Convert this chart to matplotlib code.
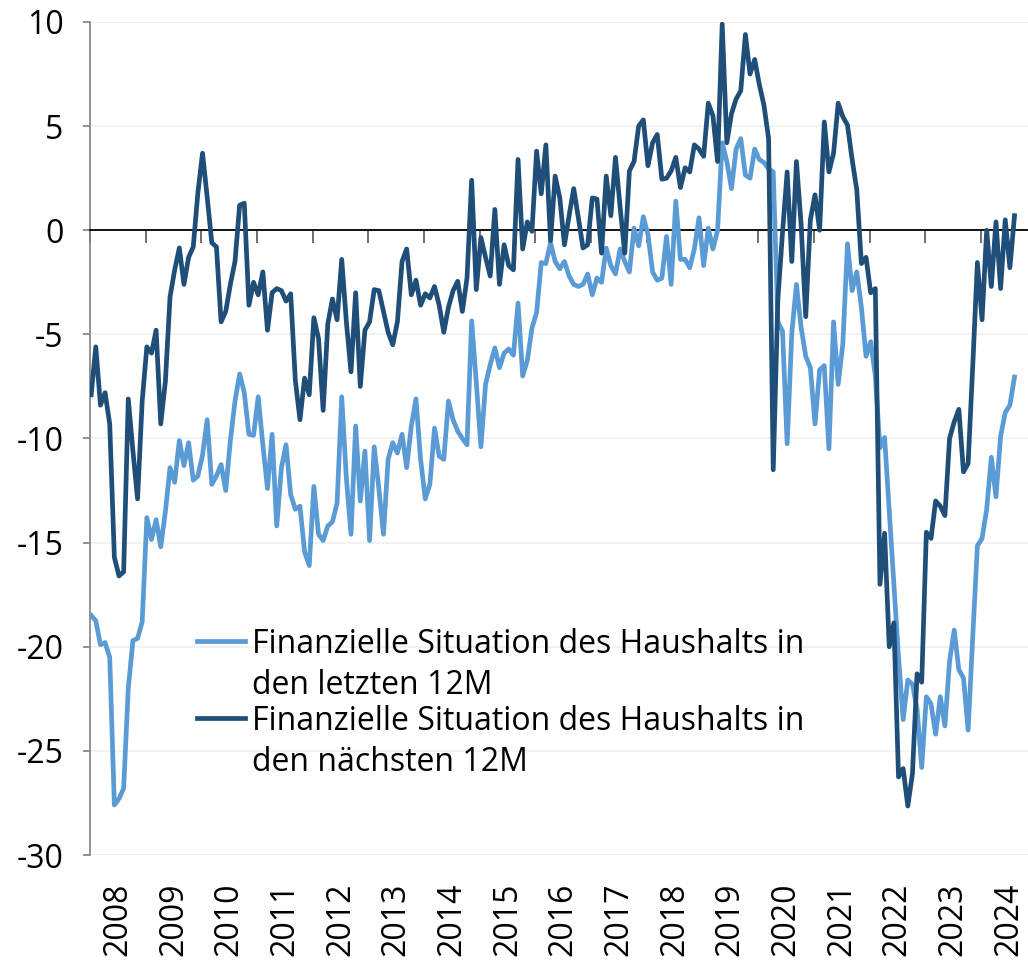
import matplotlib
matplotlib.use("Agg")
import matplotlib.pyplot as plt
from matplotlib.lines import Line2D

# monthly values, Jan 2008 - Aug 2024
years = list(range(2008, 2025))

letzte_12m = [
    -18.5, -18.75, -19.9, -19.8, -20.5, -27.6, -27.3, -26.8, -22.0, -19.7, -19.6, -18.8,
    -13.8, -14.85, -13.9, -15.2, -13.5, -11.4, -12.1, -10.1, -11.3, -10.2, -12.0, -11.8,
    -10.8, -9.1, -12.2, -11.8, -11.25, -12.5, -10.1, -8.2, -6.9, -7.8, -9.8, -9.85,
    -8.0, -10.3, -12.4, -9.8, -14.2, -11.4, -10.3, -12.7, -13.4, -13.25, -15.45, -16.1,
    -12.3, -14.6, -14.9, -14.2, -14.0, -13.1, -8.0, -11.9, -14.6, -9.4, -13.0, -10.6,
    -14.9, -10.4, -12.4, -14.6, -11.0, -10.2, -10.7, -9.8, -11.4, -9.4, -8.1, -11.0,
    -12.9, -12.2, -9.5, -10.85, -11.0, -8.2, -9.1, -9.65, -10.0, -10.3, -4.35, -7.3,
    -10.4, -7.4, -6.45, -5.65, -6.6, -5.9, -5.7, -6.0, -3.5, -7.0, -6.25, -4.7,
    -3.95, -1.55, -1.6, -0.6, -1.5, -1.85, -1.5, -2.2, -2.6, -2.7, -2.6, -2.1,
    -3.1, -2.3, -2.5, -0.86, -1.7, -2.1, -0.9, -1.5, -2.0, 0.1, -0.75, 0.65,
    -0.2, -2.0, -2.4, -2.3, -0.3, -2.6, 1.4, -1.4, -1.4, -1.8, -0.9, 0.6,
    -1.7, 0.1, -0.9, 0.0, 4.2, 3.3, 2.0, 3.9, 4.4, 2.65, 2.5, 3.9,
    3.4, 3.25, 2.95, 2.8, -4.4, -4.85, -10.25, -4.95, -2.6, -4.65, -6.05, -6.6,
    -9.3, -6.7, -6.5, -10.5, -4.4, -7.4, -5.45, -0.65, -2.9, -2.0, -3.7, -6.05,
    -5.35, -7.0, -10.45, -9.95, -13.5, -17.0, -20.5, -23.5, -21.6, -21.8, -23.0, -25.8,
    -22.4, -22.75, -24.2, -22.4, -23.8, -20.7, -19.2, -21.1, -21.5, -24.0, -19.5, -15.15,
    -14.8, -13.4, -10.9, -12.8, -9.9, -8.75, -8.4, -7.05,
]

naechste_12m = [
    -7.9, -5.6, -8.4, -7.8, -9.3, -15.7, -16.6, -16.4, -8.1, -10.6, -12.9, -8.2,
    -5.6, -5.9, -4.8, -9.3, -7.25, -3.2, -1.9, -0.85, -2.6, -1.3, -0.8, 1.8,
    3.7, 1.6, -0.6, -0.8, -4.4, -3.9, -2.6, -1.5, 1.2, 1.3, -3.6, -2.5,
    -3.1, -2.0, -4.8, -3.0, -2.8, -2.9, -3.4, -3.05, -7.2, -9.1, -7.1, -7.9,
    -4.2, -5.2, -8.65, -4.5, -3.3, -4.3, -1.4, -4.4, -6.8, -3.0, -7.5, -4.8,
    -4.4, -2.85, -2.9, -3.9, -4.9, -5.5, -4.4, -1.5, -0.9, -3.1, -2.4, -3.6,
    -3.05, -3.25, -2.7, -3.6, -4.9, -3.7, -2.9, -2.45, -3.9, -2.3, 2.4, -2.85,
    -0.35, -1.3, -2.2, 1.0, -2.6, -0.7, -1.7, -1.9, 3.4, -0.9, 0.4, -0.05,
    3.8, 1.75, 4.1, -0.5, 2.6, 1.55, -0.7, 0.7, 2.0, 0.6, -0.85, -0.7,
    1.55, 1.5, -1.1, 2.6, 0.7, 3.5, 1.1, -1.1, 2.85, 3.3, 5.0, 5.3,
    3.1, 4.2, 4.6, 2.45, 2.5, 2.85, 3.5, 2.05, 3.0, 2.8, 4.1, 3.9,
    3.55, 6.1, 5.5, 3.3, 9.9, 4.2, 5.6, 6.3, 6.7, 9.4, 7.5, 8.2,
    7.0, 6.0, 4.4, -11.5, -3.3, -0.1, 2.8, -1.5, 3.3, 0.3, -4.15, 0.5,
    1.7, 0.0, 5.2, 2.8, 3.7, 6.1, 5.45, 5.05, 3.4, 1.95, -1.6, -1.3,
    -3.0, -2.8, -17.0, -14.55, -20.0, -18.85, -26.25, -25.85, -27.65, -26.1, -21.3, -21.7,
    -14.5, -14.8, -13.0, -13.25, -13.7, -10.0, -9.2, -8.6, -11.6, -11.2, -6.5, -1.55,
    -4.3, 0.0, -2.7, 0.4, -2.8, 0.5, -1.8, 0.7,
]

labels = [
    ("Finanzielle Situation des Haushalts in", "den letzten 12M"),
    ("Finanzielle Situation des Haushalts in", "den nächsten 12M"),
]

LIGHT = "#5B9BD5"
DARK = "#1F4E79"
FS = 23

plt.rcParams["font.family"] = ["Open Sans", "DejaVu Sans"]
plt.rcParams["axes.unicode_minus"] = False

W, H = 1028, 966
fig = plt.figure(figsize=(W / 100, H / 100), dpi=100)
ax = fig.add_axes([90 / W, 1 - 855 / H, (W - 90) / W, (855 - 22) / H])

months = list(range(len(letzte_12m)))
ax.plot(months, letzte_12m, color=LIGHT, lw=3.4, solid_joinstyle="round", zorder=3)
ax.plot(months, naechste_12m, color=DARK, lw=3.4, solid_joinstyle="round", zorder=4)

ax.set_xlim(-0.25, -0.25 + (W - 90) / 4.64)
ax.set_ylim(-30, 10)

# y axis
ax.set_yticks(range(-30, 11, 5))
ax.grid(axis="y", color="#eef2f2", lw=1.3, zorder=0)
ax.tick_params(axis="y", direction="out", length=5, width=1.2, color="#808080",
               labelsize=FS, pad=14)
ax.spines["left"].set_color("#808080")
ax.spines["left"].set_linewidth(1.2)
for s in ("top", "right"):
    ax.spines[s].set_visible(False)

# horizontal axis line at zero with year boundary ticks
ax.spines["bottom"].set_position(("data", 0))
ax.spines["bottom"].set_color("black")
ax.spines["bottom"].set_linewidth(1.3)
ax.set_xticks([12 * k - 0.25 for k in range(len(years))])
ax.tick_params(axis="x", direction="out", length=9, width=1.2, color="#555555",
               labelbottom=False)

# year labels below the plot
sec = ax.secondary_xaxis(location=0)
sec.set_xticks([12 * k + 5.75 for k in range(len(years))])
sec.set_xticklabels([str(y) for y in years], rotation=90, fontsize=FS)
sec.tick_params(axis="x", length=0, pad=20)
sec.spines["bottom"].set_visible(False)

# legend, handle level with first text line
entries = [(LIGHT, 641, labels[0]), (DARK, 718, labels[1])]
for color, ypx, (l1, l2) in entries:
    fig.add_artist(Line2D([197 / W, 245 / W], [1 - ypx / H, 1 - ypx / H],
                          color=color, lw=3.4, transform=fig.transFigure))
    fig.text(252 / W, 1 - (ypx + 12) / H, l1, fontsize=FS, va="baseline")
    fig.text(252 / W, 1 - (ypx + 53) / H, l2, fontsize=FS, va="baseline")

fig.savefig("out.png", dpi=100)
